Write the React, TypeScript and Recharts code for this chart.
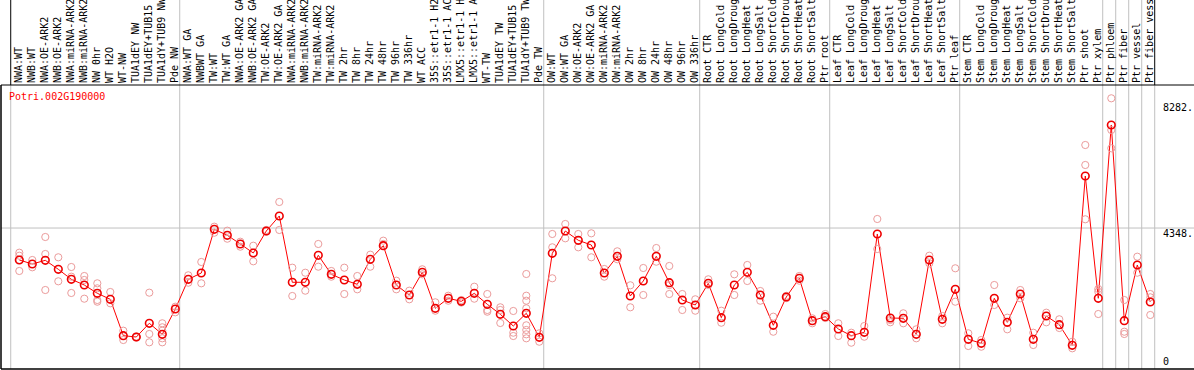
import React from 'react';
import { ComposedChart, Line, Scatter, XAxis, YAxis, ReferenceLine } from 'recharts';

// sample labels, left to right
const categories = [
  'NWA:WT', 'NWB:WT', 'NWA:OE-ARK2', 'NWB:OE-ARK2', 'NWA:miRNA-ARK2', 'NWB:miRNA-ARK2', 'NW 0hr', 'WT H2O',
  'WT-NW', 'TUA1dEY NW', 'TUA1dEY+TUB15 NW', 'TUA1dY+TUB9 NW', 'Pde NW',
  'NWA:WT GA', 'NWBWT GA', 'TW:WT', 'TW:WT GA', 'NWA:OE-ARK2 GA', 'NWB:OE-ARK2 GA', 'TW:OE-ARK2', 'TW:OE-ARK2 GA',
  'NWA:miRNA-ARK2 GA', 'NWB:miRNA-ARK2 GA', 'TW:miRNA-ARK2', 'TW:miRNA-ARK2 GA', 'TW 2hr', 'TW 8hr', 'TW 24hr',
  'TW 48hr', 'TW 96hr', 'TW 336hr', 'WT ACC', '35S::etr1-1 H2O', '35S::etr1-1 ACC', 'LMX5::etr1-1 H2O',
  'LMX5::etr1-1 ACC', 'WT-TW', 'TUA1dEY TW', 'TUA1dEY+TUB15 TW', 'TUA1dY+TUB9 TW', 'Pde TW',
  'OW:WT', 'OW:WT GA', 'OW:OE-ARK2', 'OW:OE-ARK2 GA', 'OW:miRNA-ARK2', 'OW:miRNA-ARK2 GA', 'OW 2hr', 'OW 8hr',
  'OW 24hr', 'OW 48hr', 'OW 96hr', 'OW 336hr',
  'Root CTR', 'Root LongCold', 'Root LongDrought', 'Root LongHeat', 'Root LongSalt', 'Root ShortCold',
  'Root ShortDrought', 'Root ShortHeat', 'Root ShortSalt', 'Ptr root',
  'Leaf CTR', 'Leaf LongCold', 'Leaf LongDrought', 'Leaf LongHeat', 'Leaf LongSalt', 'Leaf ShortCold',
  'Leaf ShortDrought', 'Leaf ShortHeat', 'Leaf ShortSalt', 'Ptr leaf',
  'Stem CTR', 'Stem LongCold', 'Stem LongDrought', 'Stem LongHeat', 'Stem LongSalt', 'Stem ShortCold',
  'Stem ShortDrought', 'Stem ShortHeat', 'Stem ShortSalt', 'Ptr shoot', 'Ptr xylem',
  'Ptr phloem', 'Ptr fiber', 'Ptr vessel', 'Ptr fiber vessel',
];

// index of the first sample of each group (last entry = end)
const groupStarts = [0, 13, 41, 53, 63, 73, 84, 85, 86, 87, 88];

const meanValues = [
  3350, 3225, 3340, 3060, 2747, 2569, 2310, 2123, 987, 946, 1374, 1030, 1820,
  2747, 2944, 4308, 4121, 3850, 3568, 4255, 4724, 2654, 2654, 3497, 2903, 2725, 2591, 3372,
  3797, 2569, 2257, 2966, 1842, 2154, 2060, 2310, 1967, 1655, 1289, 1686, 937,
  3559, 4255, 3965, 3818, 2944, 3465, 2226, 2694, 3465, 2641, 2101, 1945,
  2622, 1549, 2569, 2966, 2257, 1311, 2195, 2779, 1455, 1580,
  1196, 987, 1093, 4162, 1539, 1530, 1030, 3350, 1499, 2435,
  874, 749, 2154, 1405, 2288, 874, 1602, 1330, 687, 5972, 2154,
  7565, 1455, 3194, 2039,
];

const replicateValues = [
  [3578, 3484, 3350, 3007], [3350, 3122], [4068, 3537, 2413], [3434, 2685], [3131, 2829, 2320],
  [2850, 2726, 2142], [2622, 2466, 2101, 2048], [2351, 1998], [1143, 852], [960, 930],
  [2330, 1040, 780], [1374, 1249, 1143, 905, 780], [1892, 1717],
  [2872, 2641], [3288, 2622], [4390, 4202], [4265, 4015], [3921, 3765], [3796, 3309], [4287, 4234],
  [5161, 4287], [3110, 2226], [2953, 2392], [3850, 3141], [3007, 2829], [3110, 2288], [2850, 2435],
  [3516, 3141], [3953, 3850], [2704, 2435], [2392, 2123], [3060, 2903], [2029, 1767], [2235, 2079],
  [2100, 2020], [2516, 2142], [2288, 1789, 1736], [1873, 1789, 1383], [1758, 1080, 977],
  [2913, 2235, 2079, 1842, 1311, 1165, 1030, 905], [1061, 799],
  [4162, 3746, 2779], [4474, 4027], [4162, 3746], [4183, 3434], [3069, 2829], [3621, 3372],
  [2560, 1873], [3100, 2257], [3724, 3297], [3163, 2569, 2288], [2288, 1789], [2123, 1767],
  [2747, 2569], [1767, 1392], [2903, 2257], [3194, 2694], [2382, 2079], [1580, 1111], [2230, 2160],
  [2850, 2704], [1530, 1374], [1664, 1539],
  [1374, 977], [1080, 768], [1289, 955], [4630, 3693], [1477, 1405], [1686, 1374], [1186, 905],
  [3484, 3247], [1602, 1374], [3091, 2048],
  [1061, 665], [852, 643], [2569, 1945], [1549, 1186], [2413, 2154], [1080, 696], [1705, 1405],
  [1499, 1227], [799, 593], [6940, 6316, 4621], [2445, 2360, 1664],
  [8398, 7409, 6837], [2101, 1111, 1040], [3453, 2953], [2288, 2185, 1633],
];

const yTicks = [0, 4348, 8282];
const geneName = 'Potri.002G190000';

const W = 1194;
const H = 370;
const X_DOMAIN: [number, number] = [-1.408, 90.362];
const Y_DOMAIN: [number, number] = [-53, 8813];
const Y_PAGE_TOP = 11467; // value that lands on the very top of the picture
const SEP = 0.66; // separators sit a little left of each slot
const MONO = '"DejaVu Sans Mono", monospace';
const GRID = '#c0c0c0';

const chartData = categories.map((name, i) => ({ x: i, name, mean: meanValues[i] }));
const repData = replicateValues.flatMap((vals, i) => vals.map((v) => ({ x: i, rep: v })));

const Ring = ({ cx, cy, r, color, sw }: { cx: number; cy: number; r: number; color: string; sw: number }) => (
  <circle cx={cx} cy={cy} r={r} fill="none" stroke={color} strokeWidth={sw} />
);

const HeaderTick = (props: any) => {
  const { x, y, payload } = props;
  const bx = x + 2.5;
  return (
    <text
      x={bx}
      y={y}
      transform={`rotate(-90 ${bx} ${y})`}
      textAnchor="start"
      fontFamily={MONO}
      fontSize={10}
      fill="#000"
    >
      {categories[payload.value]}
    </text>
  );
};

const ValueTick = (props: any) => {
  const { y, payload } = props;
  // labels start 31px left of the chart's right edge
  return (
    <text x={W - 31} y={payload.value === 0 ? y - 2 : y + 8.6} fontFamily={MONO} fontSize={10} fill="#000">
      {payload.value === 0 ? '0' : `${payload.value}.`}
    </text>
  );
};

export default function App() {
  return (
    <div style={{ position: 'absolute', left: 0, top: 0, width: W, height: H, overflow: 'hidden', background: '#fff' }}>
      <ComposedChart width={W} height={H} data={chartData} margin={{ top: 0, right: 0, bottom: 1, left: 1 }}>
        <XAxis
          dataKey="x"
          type="number"
          orientation="top"
          domain={X_DOMAIN}
          allowDataOverflow
          height={85}
          ticks={categories.map((_, i) => i)}
          interval={0}
          tickSize={0}
          tickMargin={2}
          tickLine={false}
          axisLine={{ stroke: '#000', strokeWidth: 1 }}
          tick={<HeaderTick />}
        />
        <YAxis
          type="number"
          orientation="right"
          mirror
          domain={Y_DOMAIN}
          allowDataOverflow
          width={31}
          ticks={yTicks}
          interval={0}
          tickSize={0}
          tickMargin={0}
          tickLine={false}
          axisLine={false}
          tick={<ValueTick />}
        />
        <ReferenceLine y={4348} stroke={GRID} strokeWidth={1} />
        {groupStarts.map((b, i) => {
          const edge = i === 0 || i === groupStarts.length - 1;
          return (
            <ReferenceLine
              key={`sep-${b}`}
              ifOverflow="visible"
              stroke={GRID}
              strokeWidth={1}
              segment={[
                { x: b - SEP, y: Y_DOMAIN[0] },
                { x: b - SEP, y: edge ? Y_DOMAIN[1] : Y_PAGE_TOP },
              ]}
            />
          );
        })}
        {[groupStarts[0], groupStarts[groupStarts.length - 1]].map((b) => (
          <ReferenceLine
            key={`hdr-${b}`}
            ifOverflow="visible"
            stroke="#000"
            strokeWidth={1}
            segment={[
              { x: b - SEP, y: Y_DOMAIN[1] },
              { x: b - SEP, y: Y_PAGE_TOP },
            ]}
          />
        ))}
        <ReferenceLine x={X_DOMAIN[0]} stroke="#000" strokeWidth={1.5} />
        <ReferenceLine y={Y_DOMAIN[0]} stroke="#000" strokeWidth={1.5} />
        <Scatter
          data={repData}
          dataKey="rep"
          isAnimationActive={false}
          shape={(p: any) => <Ring cx={p.cx} cy={p.cy} r={3.6} color="#eb9c9c" sw={1} />}
        />
        <Line
          dataKey="mean"
          stroke="#ff0000"
          strokeWidth={1}
          isAnimationActive={false}
          dot={(p: any) => <Ring key={`m-${p.index}`} cx={p.cx} cy={p.cy} r={3.8} color="#ee0000" sw={1.6} />}
          activeDot={false}
        />
      </ComposedChart>
      <div
        style={{
          position: 'absolute',
          left: 9,
          top: 91,
          fontFamily: MONO,
          fontSize: 10,
          lineHeight: '12px',
          color: '#ff0000',
          whiteSpace: 'nowrap',
        }}
      >
        {geneName}
      </div>
    </div>
  );
}
